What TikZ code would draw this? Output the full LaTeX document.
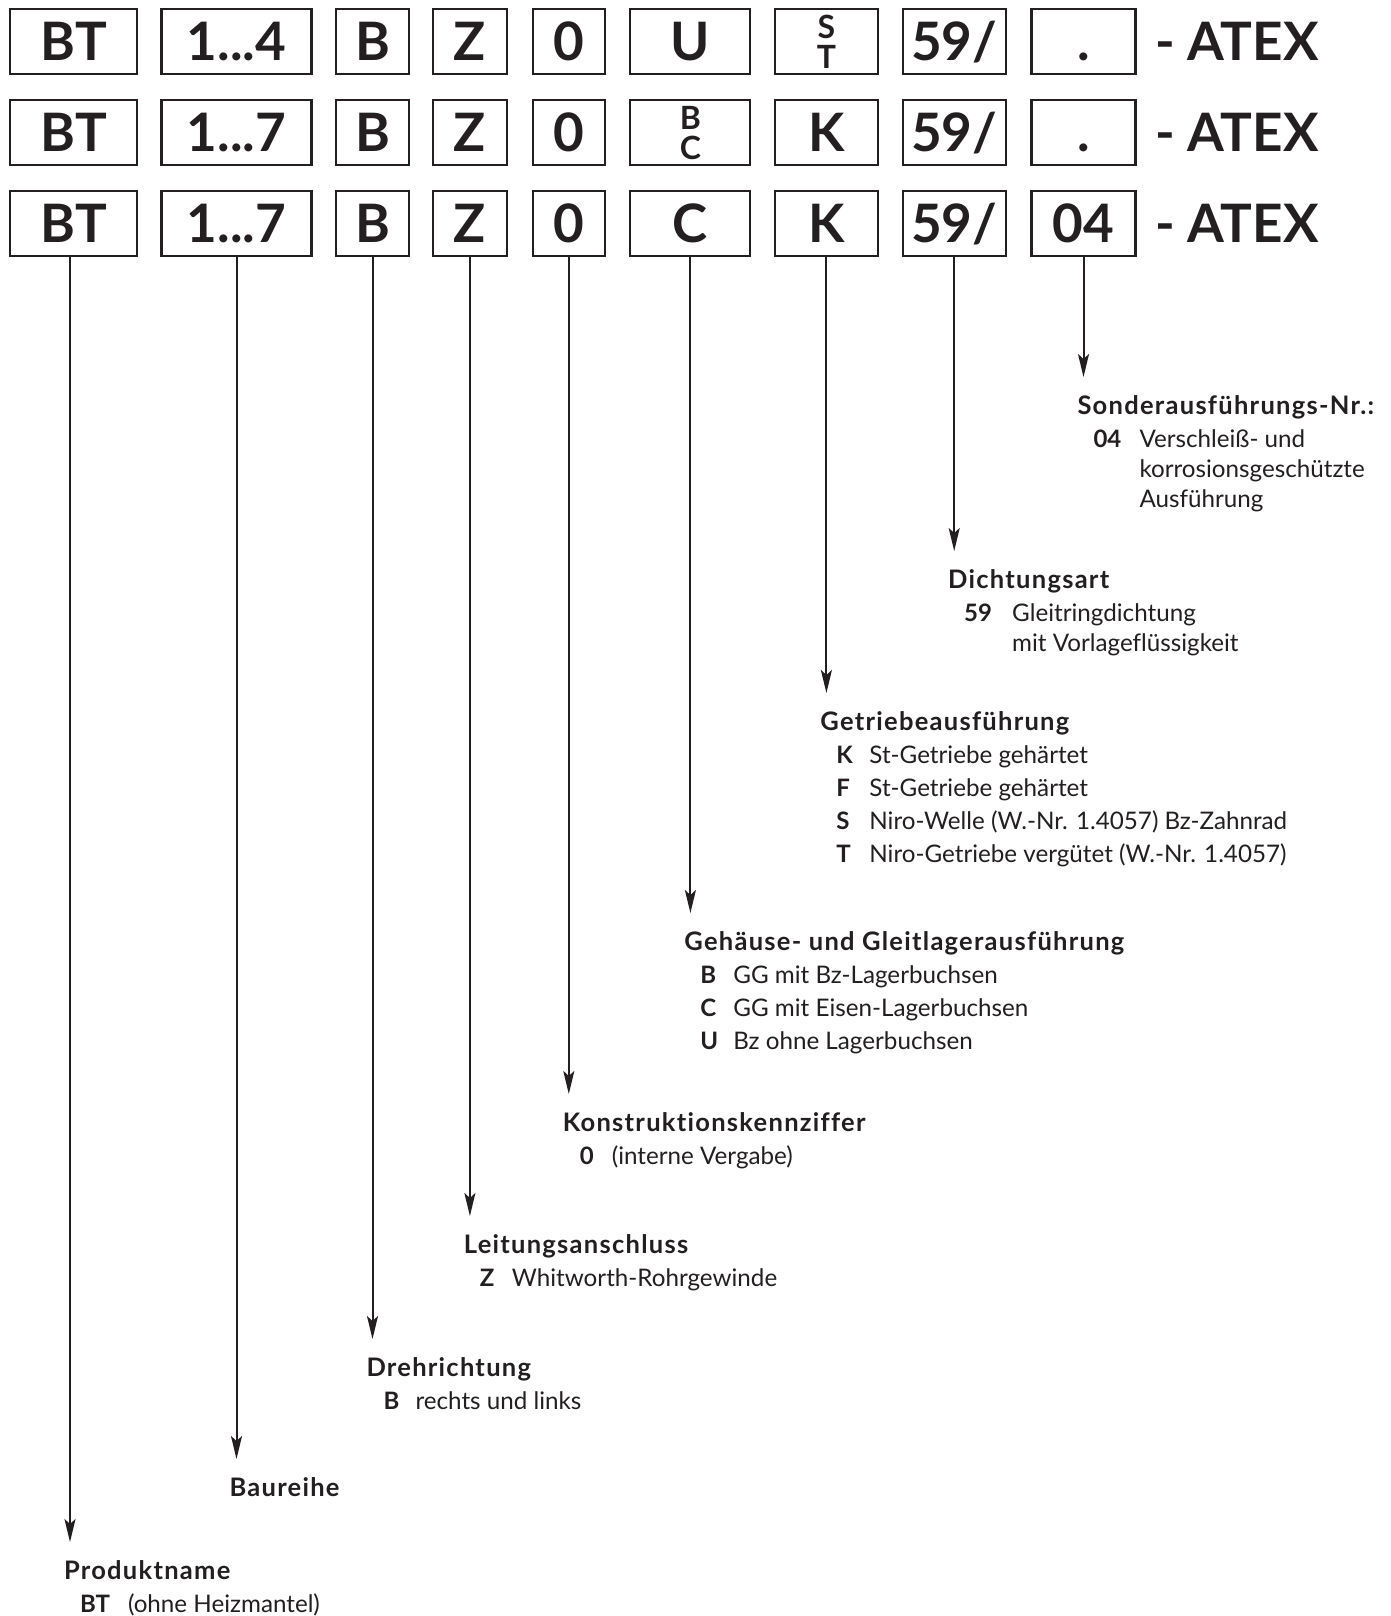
\documentclass[tikz,border=0pt]{standalone}
\usepackage{fontspec}
\setmainfont{Lato}[Ligatures=NoCommon]
\newfontfamily\headfont{Lato}[Ligatures=NoCommon,LetterSpace=5]
\usepackage{tikz}
\usetikzlibrary{arrows.meta}
\usetikzlibrary{calc}
\definecolor{ink}{RGB}{35,31,32}

% two small letters stacked in one box
\newcommand{\duo}[2]{\raisebox{-8pt}{\parbox[b]{40pt}{\centering\fontsize{32}{30}\selectfont #1\\#2}}}
% lines of a legend text, first baseline on top
\newcommand{\lines}[1]{\begin{tabular}[t]{@{}l@{}}#1\end{tabular}}

\begin{document}
\begin{tikzpicture}[x=1pt,y=-1pt,>={Stealth[length=23pt,width=11pt,inset=5pt]},line width=2pt,color=ink]
  \tikzstyle{codebox}=[draw,line width=2.1pt,minimum height=65pt,inner sep=0pt,text height=38pt,text depth=0pt,font=\fontsize{53}{53}\selectfont\bfseries]
  \tikzstyle{atex}=[anchor=west,inner sep=0pt,text height=38pt,text depth=0pt,font=\fontsize{53}{53}\selectfont\bfseries]
  \tikzstyle{head}=[anchor=base west,inner sep=0pt,font=\headfont\fontsize{25.5}{30}\selectfont\bfseries]
  \tikzstyle{key}=[anchor=base west,inner sep=0pt,font=\fontsize{24}{30}\selectfont\bfseries]
  \tikzstyle{desc}=[anchor=base west,inner sep=0pt,font=\fontsize{24.2}{30}\selectfont]

  \fill[white] (0,0) rectangle (1390,1616);
  \useasboundingbox (0,0) rectangle (1390,1616);

  % first row
  \node[codebox,minimum width=127pt] (a1) at (73.7,41.7)   {BT};
  \node[codebox,minimum width=150pt] (a2) at (236.5,41.7)  {1...4};
  \node[codebox,minimum width=73pt]  (a3) at (372.5,41.7)  {B};
  \node[codebox,minimum width=74pt]  (a4) at (469.9,41.7)  {Z};
  \node[codebox,minimum width=72pt]  (a5) at (568.8,41.7)  {0};
  \node[codebox,minimum width=120pt] (a6) at (690.4,41.7)  {U};
  \node[codebox,minimum width=103pt] (a7) at (826.4,41.7)  {\duo{S}{T}};
  \node[codebox,minimum width=103pt] (a8) at (954.2,41.7)  {59/};
  \node[codebox,minimum width=104pt] (a9) at (1083.5,41.7) {.};
  \node[atex] (ax) at (1154,41.7) {- ATEX};

  % second row
  \node[codebox,minimum width=127pt] (b1) at (73.7,132.4)   {BT};
  \node[codebox,minimum width=150pt] (b2) at (236.5,132.4)  {1...7};
  \node[codebox,minimum width=73pt]  (b3) at (372.5,132.4)  {B};
  \node[codebox,minimum width=74pt]  (b4) at (469.9,132.4)  {Z};
  \node[codebox,minimum width=72pt]  (b5) at (568.8,132.4)  {0};
  \node[codebox,minimum width=120pt] (b6) at (690.4,132.4)  {\duo{B}{C}};
  \node[codebox,minimum width=103pt] (b7) at (826.4,132.4)  {K};
  \node[codebox,minimum width=103pt] (b8) at (954.2,132.4)  {59/};
  \node[codebox,minimum width=104pt] (b9) at (1083.5,132.4) {.};
  \node[atex] (bx) at (1154,132.4) {- ATEX};

  % third row
  \node[codebox,minimum width=127pt] (c1) at (73.7,223.1)   {BT};
  \node[codebox,minimum width=150pt] (c2) at (236.5,223.1)  {1...7};
  \node[codebox,minimum width=73pt]  (c3) at (372.5,223.1)  {B};
  \node[codebox,minimum width=74pt]  (c4) at (469.9,223.1)  {Z};
  \node[codebox,minimum width=72pt]  (c5) at (568.8,223.1)  {0};
  \node[codebox,minimum width=120pt] (c6) at (690.4,223.1)  {C};
  \node[codebox,minimum width=103pt] (c7) at (826.4,223.1)  {K};
  \node[codebox,minimum width=103pt] (c8) at (954.2,223.1)  {59/};
  \node[codebox,minimum width=104pt] (c9) at (1083.5,223.1) {04};
  \node[atex] (cx) at (1154,223.1) {- ATEX};

  % arrow ends
  \coordinate (tProd)  at (70,1542);
  \coordinate (tBau)   at (236.5,1459);
  \coordinate (tDreh)  at (372.5,1339);
  \coordinate (tLeit)  at (469.9,1216);
  \coordinate (tKons)  at (568.8,1094);
  \coordinate (tGeh)   at (690.4,913);
  \coordinate (tGetr)  at (826.4,693);
  \coordinate (tDicht) at (954.2,551);
  \coordinate (tSond)  at (1083.5,377);

  \draw[->] (c1.south -| tProd) -- (tProd);
  \draw[->] (c2.south) -- (tBau);
  \draw[->] (c3.south) -- (tDreh);
  \draw[->] (c4.south) -- (tLeit);
  \draw[->] (c5.south) -- (tKons);
  \draw[->] (c6.south) -- (tGeh);
  \draw[->] (c7.south) -- (tGetr);
  \draw[->] (c8.south) -- (tDicht);
  \draw[->] (c9.south) -- (tSond);

  % legends
  \node[head] (hSond) at ($(tSond)+(-7,37)$) {Sonderausführungs-Nr.:};
  \node[key]  (kSond) at ($(tSond)+(9,70)$)  {04};
  \node[desc] (dSond) at ($(tSond)+(55,70)$) {\lines{Verschleiß- und\\korrosionsgeschützte\\Ausführung}};

  \node[head] (hDicht) at ($(tDicht)+(-7,37)$) {Dichtungsart};
  \node[key]  (kDicht) at ($(tDicht)+(9,70)$)  {59};
  \node[desc] (dDicht) at ($(tDicht)+(57,70)$) {\lines{Gleitringdichtung\\mit Vorlageflüssigkeit}};

  \node[head] (hGetr) at ($(tGetr)+(-7,37)$) {Getriebeausführung};
  \foreach \k/\t [count=\n from 0] in {K/{St-Getriebe gehärtet},F/{St-Getriebe gehärtet},S/{Niro-Welle (W.-Nr. 1.4057) Bz-Zahnrad},T/{Niro-Getriebe vergütet (W.-Nr. 1.4057)}}{
    \node[key]  (kGetr\n) at ($(tGetr)+(9,70+33*\n)$)  {\k};
    \node[desc] (dGetr\n) at ($(tGetr)+(42,70+33*\n)$) {\t};
  }

  \node[head] (hGeh) at ($(tGeh)+(-7,37)$) {Gehäuse- und Gleitlagerausführung};
  \foreach \k/\t [count=\n from 0] in {B/{GG mit Bz-Lagerbuchsen},C/{GG mit Eisen-Lagerbuchsen},U/{Bz ohne Lagerbuchsen}}{
    \node[key]  (kGeh\n) at ($(tGeh)+(9,70+33*\n)$)  {\k};
    \node[desc] (dGeh\n) at ($(tGeh)+(42,70+33*\n)$) {\t};
  }

  \node[head] (hKons) at ($(tKons)+(-7,37)$) {Konstruktionskennziffer};
  \node[key]  (kKons) at ($(tKons)+(10,70)$) {0};
  \node[desc] (dKons) at ($(tKons)+(42,70)$) {(interne Vergabe)};

  \node[head] (hLeit) at ($(tLeit)+(-7,37)$) {Leitungsanschluss};
  \node[key]  (kLeit) at ($(tLeit)+(9,70)$)  {Z};
  \node[desc] (dLeit) at ($(tLeit)+(41,70)$) {Whitworth-Rohrgewinde};

  \node[head] (hDreh) at ($(tDreh)+(-7,37)$) {Drehrichtung};
  \node[key]  (kDreh) at ($(tDreh)+(10,70)$) {B};
  \node[desc] (dDreh) at ($(tDreh)+(42,70)$) {rechts und links};

  \node[head] (hBau) at ($(tBau)+(-8,37)$) {Baureihe};

  \node[head] (hProd) at ($(tProd)+(-7,37)$) {Produktname};
  \node[key]  (kProd) at ($(tProd)+(9,70)$)  {BT};
  \node[desc] (dProd) at ($(tProd)+(57,70)$) {(ohne Heizmantel)};
\end{tikzpicture}
\end{document}
